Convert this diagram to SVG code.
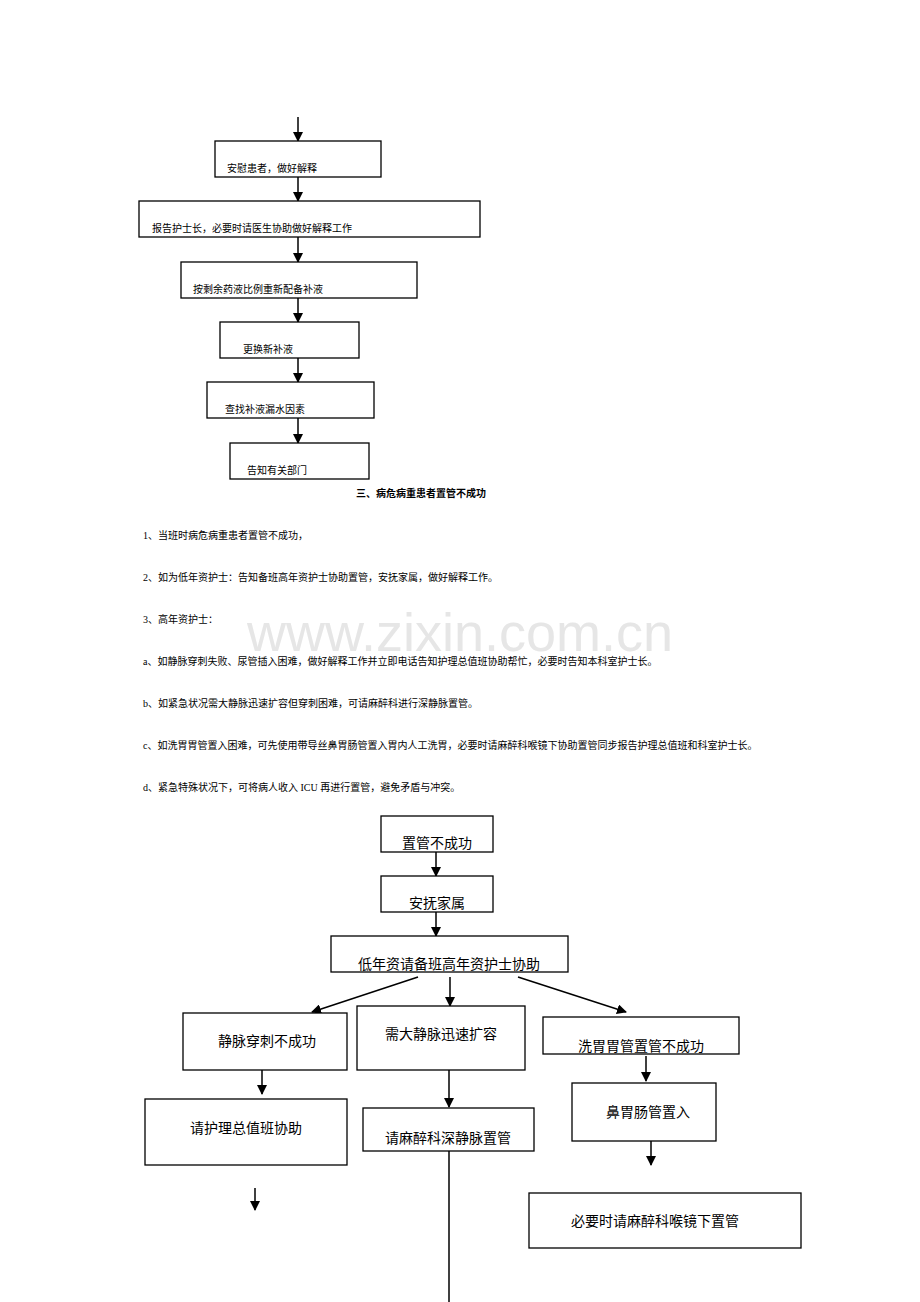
<svg xmlns="http://www.w3.org/2000/svg" width="920" height="1302" viewBox="0 0 920 1302">
<defs>
<marker id="ah" markerWidth="10" markerHeight="10" refX="9" refY="5" orient="auto" markerUnits="userSpaceOnUse"><path d="M0,0 L10,5 L0,10 z" fill="#000"/></marker>
</defs>
<style>
.b{fill:#fff;stroke:#000;stroke-width:1.3}
.s{font-family:"Liberation Serif","Noto Sans CJK SC",serif;font-size:10px;fill:#000}
.m{font-family:"Liberation Sans","Noto Sans CJK SC",sans-serif;font-size:14px;fill:#000}
.c line{stroke:#000;stroke-width:1.5;marker-end:url(#ah)}
</style>
<rect width="920" height="1302" fill="#fff"/>
<text x="460" y="651" text-anchor="middle" font-family="Liberation Sans,sans-serif" font-size="54" fill="#e6e6e6">www.zixin.com.cn</text>
<g class="c" id="connectors">
<line x1="298" y1="117" x2="298" y2="141"/>
<line x1="298" y1="177" x2="298" y2="201"/>
<line x1="298" y1="237" x2="298" y2="262"/>
<line x1="298" y1="298" x2="298" y2="322"/>
<line x1="298" y1="358" x2="298" y2="382"/>
<line x1="298" y1="418" x2="298" y2="443"/>
<line x1="436" y1="852" x2="436" y2="876"/>
<line x1="436" y1="912" x2="436" y2="936"/>
<line x1="418" y1="977" x2="312" y2="1012"/>
<line x1="450" y1="977" x2="450" y2="1006"/>
<line x1="518" y1="977" x2="626" y2="1012"/>
<line x1="262" y1="1070" x2="262" y2="1094"/>
<line x1="449" y1="1070" x2="449" y2="1107"/>
<line x1="646" y1="1056" x2="646" y2="1081"/>
<line x1="651" y1="1141" x2="651" y2="1165"/>
<line x1="255" y1="1188" x2="255" y2="1210"/>
<path d="M449,1151 V1302" stroke="#000" stroke-width="1.5" fill="none"/>
</g>
<g id="n1"><rect class="b" x="215" y="141" width="166" height="36"/><text class="s" x="227" y="172">安慰患者，做好解释</text></g>
<g id="n2"><rect class="b" x="139" y="201" width="341" height="36"/><text class="s" x="152" y="232">报告护士长，必要时请医生协助做好解释工作</text></g>
<g id="n3"><rect class="b" x="181" y="262" width="236" height="36"/><text class="s" x="193" y="293">按剩余药液比例重新配备补液</text></g>
<g id="n4"><rect class="b" x="220" y="322" width="139" height="36"/><text class="s" x="243" y="353">更换新补液</text></g>
<g id="n5"><rect class="b" x="207" y="382" width="167" height="36"/><text class="s" x="225" y="413">查找补液漏水因素</text></g>
<g id="n6"><rect class="b" x="230" y="443" width="139" height="36"/><text class="s" x="247" y="474">告知有关部门</text></g>
<g id="text">
<text class="s" x="356" y="497" font-weight="bold">三、病危病重患者置管不成功</text>
<text class="s" x="143" y="539">1、当班时病危病重患者置管不成功，</text>
<text class="s" x="143" y="581">2、如为低年资护士：告知备班高年资护士协助置管，安抚家属，做好解释工作。</text>
<text class="s" x="143" y="623">3、高年资护士：</text>
<text class="s" x="143" y="665">a、如静脉穿刺失败、尿管插入困难，做好解释工作并立即电话告知护理总值班协助帮忙，必要时告知本科室护士长。</text>
<text class="s" x="143" y="707">b、如紧急状况需大静脉迅速扩容但穿刺困难，可请麻醉科进行深静脉置管。</text>
<text class="s" x="143" y="749">c、如洗胃胃管置入困难，可先使用带导丝鼻胃肠管置入胃内人工洗胃，必要时请麻醉科喉镜下协助置管同步报告护理总值班和科室护士长。</text>
<text class="s" x="143" y="791">d、紧急特殊状况下，可将病人收入 ICU 再进行置管，避免矛盾与冲突。</text>
</g>
<g id="A"><rect class="b" x="381" y="816" width="112" height="36"/><text class="m" x="437" y="848" text-anchor="middle">置管不成功</text></g>
<g id="B"><rect class="b" x="381" y="876" width="112" height="36"/><text class="m" x="437" y="908" text-anchor="middle">安抚家属</text></g>
<g id="C"><rect class="b" x="331" y="936" width="237" height="36"/><text class="m" x="449" y="969" text-anchor="middle">低年资请备班高年资护士协助</text></g>
<g id="D"><rect class="b" x="183" y="1013" width="164" height="57"/><text class="m" x="267" y="1046" text-anchor="middle" font-size="15">静脉穿刺不成功</text></g>
<g id="E"><rect class="b" x="357" y="1006" width="168" height="64"/><text class="m" x="441" y="1039" text-anchor="middle" font-size="15">需大静脉迅速扩容</text></g>
<g id="F"><rect class="b" x="543" y="1017" width="196" height="37"/><text class="m" x="641" y="1051" text-anchor="middle">洗胃胃管置管不成功</text></g>
<g id="G"><rect class="b" x="145" y="1099" width="202" height="66"/><text class="m" x="246" y="1133" text-anchor="middle" font-size="15">请护理总值班协助</text></g>
<g id="H"><rect class="b" x="363" y="1108" width="171" height="43"/><text class="m" x="448" y="1143" text-anchor="middle" font-size="15">请麻醉科深静脉置管</text></g>
<g id="I"><rect class="b" x="572" y="1083" width="144" height="58"/><text class="m" x="648" y="1117" text-anchor="middle" font-size="15">鼻胃肠管置入</text></g>
<g id="J"><rect class="b" x="529" y="1193" width="272" height="55"/><text class="m" x="655" y="1226" text-anchor="middle" font-size="15">必要时请麻醉科喉镜下置管</text></g>
</svg>
